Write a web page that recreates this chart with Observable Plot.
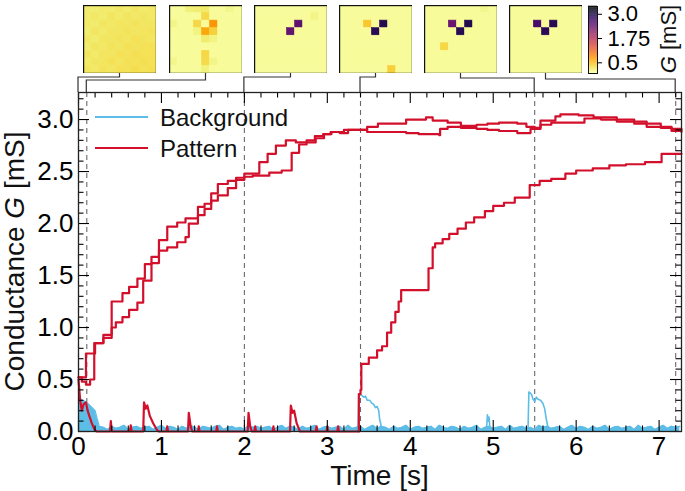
<!DOCTYPE html>
<html><head><meta charset="utf-8">
<script src="https://cdn.jsdelivr.net/npm/d3@7"></script>
<script src="https://cdn.jsdelivr.net/npm/@observablehq/plot@0.6"></script>
<style>
body{margin:0;background:#fff;}
#wrap{position:relative;width:685px;height:491px;overflow:hidden;background:#fff;}
#wrap svg{display:block;}
.abs{position:absolute;}
</style></head><body><div id="wrap"></div>
<script>
const FONT = '"Liberation Sans", Arial, Helvetica, sans-serif';
const BLUE = "#5cbde7", RED = "#d3102b";

// ---- data ----
const snapTimes = [0, 0.1, 2.0, 3.4, 5.5, 7.2];
const xTickValues = [0, 1, 2, 3, 4, 5, 6, 7];
const yTickValues = [0, 0.5, 1.0, 1.5, 2.0, 2.5, 3.0];
const cbarTickValues = [0.5, 1.75, 3.0];
const cbarTickLabels = ["0.5", "1.75", "3.0"];
const seriesNames = ["Background", "Pattern"];

// background noise band, sampled every bgStep seconds
const bgStep = 0.05;
const bgNoise = [
0.33,0.30,0.28,0.24,0.20,0.05,
0.04,0.02,0.05,0.03,0.04,0.06,0.02,0.04,0.05,0.03,
0.04,0.05,0.02,0.04,0.06,0.03,0.05,0.04,0.02,0.05,
0.03,0.06,0.04,0.02,0.05,0.04,0.03,0.05,0.06,0.02,
0.04,0.05,0.03,0.04,0.02,0.06,0.04,0.05,0.03,0.04,
0.05,0.02,0.04,0.06,0.03,0.05,0.04,0.02,0.05,0.03,
0.04,0.06,0.02,0.04,0.05,0.03,0.04,0.05,0.02,0.06,
0.03,0.04,0.05,0.02,0.04,0.06,0.03,0.05,0.04,0.02,
0.05,0.03,0.04,0.06,0.02,0.04,0.05,0.03,0.04,0.05,
0.02,0.06,0.04,0.03,0.05,0.04,0.02,0.05,0.03,0.04,
0.06,0.02,0.04,0.05,0.03,0.04,0.05,0.02,0.06,0.03,
0.04,0.05,0.03,0.04,0.02,0.06,0.04,0.05,0.03,0.04,
0.05,0.02,0.04,0.06,0.03,0.05,0.04,0.02,0.05,0.03,
0.04,0.06,0.02,0.04,0.05,0.03,0.04,0.05,0.02,0.06,
0.03,0.04,0.05,0.02,0.04,0.06,0.03,0.05,0.04,0.05
];
// background pixels that briefly switch
const bgBump1 = [[3.37,0.04],[3.38,0.36],[3.41,0.35],[3.44,0.33],[3.46,0.34],[3.48,0.3],[3.51,0.3],[3.54,0.27],[3.56,0.26],[3.58,0.23],[3.6,0.24],[3.62,0.2],[3.63,0.12],[3.65,0.05],[3.67,0.03]];
const bgBump2 = [[4.92,0.03],[4.93,0.16],[4.94,0.1],[4.95,0.14],[4.96,0.03]];
const bgBump3 = [[5.42,0.03],[5.43,0.38],[5.46,0.36],[5.48,0.31],[5.5,0.29],[5.52,0.33],[5.54,0.31],[5.57,0.3],[5.6,0.27],[5.62,0.22],[5.64,0.12],[5.66,0.04]];

// pattern pixel 3 before it is written (spikes), then written from 3.38 s
const patLow = [
[0,0.5],[0.02,0.3],[0.04,0.2],[0.06,0.26],[0.09,0.28],[0.11,0.2],[0.13,0.15],[0.16,0.08],[0.2,0.01],[0.22,0],
[0.38,0],[0.39,0.1],[0.4,0],[0.62,0],[0.63,0.06],[0.64,0],
[0.78,0],[0.79,0.28],[0.81,0.22],[0.83,0.25],[0.86,0.15],[0.9,0.08],[0.95,0.01],[0.97,0],
[1.06,0],[1.07,0.05],[1.08,0],[1.32,0],[1.33,0.18],[1.35,0.06],[1.37,0],
[1.44,0],[1.45,0.05],[1.46,0],[1.66,0],[1.67,0.05],[1.68,0],
[2.04,0],[2.05,0.18],[2.07,0.05],[2.09,0],[2.12,0],[2.13,0.05],[2.14,0],
[2.34,0],[2.35,0.05],[2.36,0],
[2.55,0],[2.56,0.25],[2.58,0.18],[2.6,0.2],[2.63,0.08],[2.67,0],
[2.86,0],[2.87,0.05],[2.88,0],[2.99,0],[3.0,0.05],[3.01,0],[3.12,0],[3.13,0.05],[3.14,0],[3.38,0]
];
const patRise = [
[3.38,0],[3.38,0.36],[3.4,0.4],[3.41,0.65],[3.5,0.71],[3.6,0.78],[3.66,0.82],[3.72,0.95],[3.77,1.05],[3.82,1.15],[3.86,1.25],[3.89,1.36],
[4.22,1.57],[4.27,1.77],[4.3,1.81],[4.39,1.85],[4.47,1.9],[4.57,1.95],[4.67,2.01],[4.77,2.06],[4.9,2.12],[5.0,2.17],[5.13,2.2],[5.26,2.25],
[5.44,2.37],[5.56,2.41],[5.7,2.43],[5.87,2.48],[6.0,2.51],[6.2,2.53],[6.4,2.56],[6.6,2.57],[6.83,2.59],[7.03,2.67],[7.27,2.67]
];
const patA = [
[0,0.52],[0.09,0.75],[0.2,0.85],[0.3,0.93],[0.4,1.25],[0.53,1.33],[0.61,1.39],[0.71,1.47],[0.8,1.61],[0.88,1.68],[0.97,1.84],[1.07,1.97],
[1.19,2.01],[1.29,2.05],[1.44,2.16],[1.52,2.19],[1.6,2.29],[1.68,2.38],[1.8,2.41],[1.9,2.44],[2.0,2.45],[2.1,2.46],[2.3,2.49],[2.45,2.51],
[2.57,2.68],[2.66,2.76],[2.75,2.8],[2.85,2.84],[2.95,2.86],[3.05,2.88],[3.15,2.87],[3.25,2.9],[3.4,2.9],[3.48,2.88],[3.61,2.88],[3.95,2.87],
[4.1,2.86],[4.35,2.85],[4.36,2.91],[4.45,2.93],[4.61,2.92],[4.8,2.91],[4.93,2.9],[5.07,2.89],[5.29,2.87],[5.45,2.91],[5.57,2.95],[5.7,2.97],
[5.9,2.97],[6.1,3.01],[6.3,3.0],[6.49,2.98],[6.7,2.96],[6.85,2.93],[7.02,2.92],[7.15,2.89],[7.27,2.88]
];
const patB = [
[0,0.52],[0.04,0.48],[0.09,0.45],[0.14,0.5],[0.19,0.85],[0.3,0.9],[0.4,1.0],[0.45,1.05],[0.53,1.1],[0.61,1.17],[0.71,1.24],[0.78,1.45],
[0.88,1.62],[0.97,1.74],[1.07,1.77],[1.19,1.82],[1.29,1.87],[1.33,2.0],[1.44,2.08],[1.52,2.14],[1.6,2.22],[1.68,2.27],[1.8,2.34],[1.9,2.42],
[2.0,2.48],[2.18,2.59],[2.28,2.67],[2.38,2.75],[2.5,2.8],[2.62,2.78],[2.86,2.82],[2.96,2.86],[3.04,2.88],[3.2,2.9],[3.4,2.9],[3.48,2.93],
[3.61,2.96],[3.7,2.96],[3.95,3.0],[4.19,3.02],[4.27,2.99],[4.45,2.97],[4.61,2.94],[4.8,2.95],[4.93,2.96],[5.07,2.97],[5.29,2.96],[5.4,2.93],
[5.5,2.92],[5.57,2.99],[5.75,3.03],[5.81,3.05],[6.03,3.04],[6.21,3.02],[6.49,3.0],[6.7,2.98],[6.85,2.96],[7.02,2.93],[7.15,2.91],[7.27,2.9]
];

// inset snapshots (9x9 conductance maps, mS)
const snap0 = [
[0.15,0.13,0.16,0.14,0.17,0.15,0.18,0.16,0.17],
[0.14,0.17,0.15,0.18,0.16,0.19,0.17,0.18,0.17],
[0.16,0.14,0.18,0.17,0.20,0.18,0.21,0.19,0.18],
[0.13,0.18,0.16,0.19,0.18,0.21,0.19,0.20,0.21],
[0.17,0.15,0.19,0.18,0.21,0.19,0.22,0.21,0.19],
[0.15,0.19,0.17,0.21,0.19,0.23,0.21,0.22,0.22],
[0.18,0.16,0.20,0.19,0.22,0.21,0.24,0.22,0.23],
[0.16,0.19,0.18,0.22,0.20,0.23,0.22,0.24,0.22],
[0.18,0.17,0.21,0.19,0.23,0.22,0.25,0.23,0.24]
];
const snapBase = 0.0;
// [column, row, value]
const snap1 = [[2,0,0.1],[3,0,0.13],[4,0,0.16],[7,0,0.05],[4,1,0.28],[0,2,0.06],[3,2,0.3],[5,2,0.75],[3,3,0.08],[4,3,0.62],[5,3,0.33],[4,4,0.14],[5,4,0.08],[4,6,0.3],[4,7,0.27],[5,7,0.07],[0,7,0.05],[4,8,0.09]];
const snap2 = [[5,2,2.48],[4,3,2.44],[7,1,0.07]];
const snap3 = [[3,2,0.4],[5,2,2.92],[4,3,2.9],[6,8,0.35]];
const snap4 = [[3,2,2.38],[5,2,2.95],[4,3,2.92],[2,5,0.3],[7,0,0.05]];
const snap5 = [[3,2,2.67],[5,2,2.9],[4,3,2.88]];

// ---- layout ----
const W = 685, H = 491, mL = 78, mR = 4, mT = 92, mB = 60;
const fw = W - mL - mR, fh = H - mT - mB;
const xDomain = [0, 7.27], yDomain = [0, 3.26];
const colorDomain = [-0.05, 3.4];
const colorInterp = t => d3.interpolateInferno(1 - t);

const bgData = bgNoise.map((g, i) => ({t: i * bgStep, g}));
const bumpData = [bgBump1, bgBump2, bgBump3].flatMap((s, k) => s.map(([t, g]) => ({t, g, id: k})));
const toObj = s => s.map(([t, g]) => ({t, g}));

const xMinor = d3.range(0.2, 7.27, 0.2).filter(v => Math.abs(v - Math.round(v)) > 1e-6);
const yMinor = d3.range(0.1, 3.26, 0.1).filter(v => Math.abs(v * 2 - Math.round(v * 2)) > 1e-6);
const MAJ = 11, MIN = 5.5;

const main = Plot.plot({
  width: W, height: H, marginLeft: mL, marginRight: mR, marginTop: mT, marginBottom: mB,
  style: {fontFamily: FONT, fontSize: "26px", background: "transparent", color: "#000"},
  x: {domain: xDomain, ticks: xTickValues, tickSize: 0, tickPadding: 5, tickFormat: d => String(d), label: null},
  y: {domain: yDomain, ticks: yTickValues, tickSize: 0, tickPadding: 5, tickFormat: d3.format(".1f"), label: null},
  marks: [
    Plot.ruleX(snapTimes, {x: d => d, stroke: "#6a6a6a", strokeWidth: 1.1, strokeDasharray: "5,4"}),
    Plot.areaY(bgData, {x: "t", y: "g", fill: BLUE, curve: "linear"}),
    Plot.line(bgData, {x: "t", y: "g", stroke: BLUE, strokeWidth: 1.2}),
    Plot.line(bumpData, {x: "t", y: "g", z: "id", stroke: BLUE, strokeWidth: 1.6}),
    Plot.line(toObj(patLow), {x: "t", y: "g", stroke: RED, strokeWidth: 2.2}),
    Plot.line(toObj(patRise), {x: "t", y: "g", stroke: RED, strokeWidth: 2.2, curve: "step-after"}),
    Plot.line(toObj(patA), {x: "t", y: "g", stroke: RED, strokeWidth: 2.2, curve: "step-after"}),
    Plot.line(toObj(patB), {x: "t", y: "g", stroke: RED, strokeWidth: 2.2, curve: "step-after"}),
    // inward ticks (bottom, top, left, right)
    Plot.tickX(xTickValues, {x: d => d, stroke: "#000", strokeWidth: 1.1, insetTop: fh - MAJ}),
    Plot.tickX(xMinor, {x: d => d, stroke: "#000", strokeWidth: 1.1, insetTop: fh - MIN}),
    Plot.tickX(xTickValues, {x: d => d, stroke: "#000", strokeWidth: 1.1, insetBottom: fh - MAJ}),
    Plot.tickX(xMinor, {x: d => d, stroke: "#000", strokeWidth: 1.1, insetBottom: fh - MIN}),
    Plot.tickY(yTickValues, {y: d => d, stroke: "#000", strokeWidth: 1.1, insetRight: fw - MAJ}),
    Plot.tickY(yMinor, {y: d => d, stroke: "#000", strokeWidth: 1.1, insetRight: fw - MIN}),
    Plot.tickY(yTickValues, {y: d => d, stroke: "#000", strokeWidth: 1.1, insetLeft: fw - MAJ}),
    Plot.tickY(yMinor, {y: d => d, stroke: "#000", strokeWidth: 1.1, insetLeft: fw - MIN}),
    Plot.frame({stroke: "#222", strokeWidth: 1.3})
  ]
});
const wrap = document.getElementById("wrap");
wrap.appendChild(main);

const svg = d3.select(main);
const xPix = t => mL + (t - xDomain[0]) / (xDomain[1] - xDomain[0]) * fw;

// connectors from insets to snapshot times
const insetLefts = [83, 169, 254, 339, 424, 509];
const insetTop = 5, insetW = 73, insetH = 68;
const connY = [77, 80, 77, 77, 78, 79];
insetLefts.forEach((L, i) => {
  const cx = L + insetW / 2, ex = xPix(snapTimes[i]);
  svg.append("path")
    .attr("d", `M${cx},${insetTop + insetH}V${connY[i]}H${ex}V${mT}`)
    .attr("fill", "none").attr("stroke", "#333").attr("stroke-width", 1.2);
});

// legend
const legColors = [BLUE, RED], legY = [117, 148];
seriesNames.forEach((name, i) => {
  svg.append("line").attr("x1", 95).attr("x2", 148).attr("y1", legY[i]).attr("y2", legY[i])
    .attr("stroke", legColors[i]).attr("stroke-width", 2);
  svg.append("text").attr("x", 160).attr("y", legY[i]).attr("dy", "0.36em")
    .attr("font-family", FONT).attr("font-size", 24).attr("fill", "#111").attr("text-anchor", "start").text(name);
});

// axis titles
svg.append("text").attr("x", mL + fw / 2).attr("y", 485).attr("text-anchor", "middle")
  .attr("font-family", FONT).attr("font-size", 28).attr("fill", "#111").text("Time [s]");
const yt = svg.append("text").attr("transform", `translate(24,${mT + fh / 2}) rotate(-90)`)
  .attr("text-anchor", "middle").attr("font-family", FONT).attr("font-size", 28).attr("fill", "#111");
yt.append("tspan").text("Conductance ");
yt.append("tspan").attr("font-style", "italic").text("G");
yt.append("tspan").text(" [mS]");

// insets
const snaps = [null, snap1, snap2, snap3, snap4, snap5];
const grid = d3.range(9);
snaps.forEach((sp, i) => {
  let cells;
  if (i === 0) {
    cells = snap0.flatMap((row, r) => row.map((v, c) => ({c, r, v})));
  } else {
    const m = new Map(sp.map(([c, r, v]) => [c + "," + r, v]));
    cells = grid.flatMap(r => grid.map(c => ({c, r, v: m.has(c + "," + r) ? m.get(c + "," + r) : snapBase})));
  }
  const p = Plot.plot({
    width: insetW, height: insetH, margin: 0,
    style: {background: "transparent"},
    x: {type: "band", domain: grid, padding: 0, round: false, axis: null},
    y: {type: "band", domain: grid, padding: 0, round: false, axis: null},
    color: {type: "linear", domain: colorDomain, interpolate: colorInterp},
    marks: [
      Plot.cell(cells, {x: "c", y: "r", fill: "v", stroke: "v", strokeWidth: 0.6, inset: 0}),
      Plot.frame({stroke: "#111", strokeWidth: 1.4})
    ]
  });
  const d = document.createElement("div");
  d.className = "abs"; d.style.left = insetLefts[i] + "px"; d.style.top = insetTop + "px";
  d.appendChild(p); wrap.appendChild(d);
});

// colorbar
const cbStep = 0.02;
const cbVals = d3.range(colorDomain[0], colorDomain[1], cbStep);
const cbW = 97;
const cbar = Plot.plot({
  width: cbW, height: 80, marginLeft: 0, marginRight: cbW - 9, marginTop: 6, marginBottom: 7,
  style: {fontFamily: FONT, fontSize: "22px", background: "transparent", color: "#000"},
  x: {domain: [0, 1], axis: null},
  y: {domain: colorDomain, axis: "right", ticks: cbarTickValues, tickSize: 4, tickPadding: 6,
      tickFormat: d => cbarTickLabels[cbarTickValues.indexOf(d)], label: null},
  color: {type: "linear", domain: colorDomain, interpolate: colorInterp},
  marks: [
    Plot.rect(cbVals, {x1: 0, x2: 1, y1: d => d, y2: d => d + cbStep * 1.3, fill: d => d}),
    Plot.frame({stroke: "#111", strokeWidth: 1})
  ]
});
const cd = document.createElement("div");
cd.className = "abs"; cd.style.left = "588px"; cd.style.top = "0px";
cd.appendChild(cbar); wrap.appendChild(cd);
const ct = d3.select(cbar).append("text").attr("transform", "translate(88,39) rotate(-90)")
  .attr("text-anchor", "middle").attr("font-family", FONT).attr("font-size", 22).attr("fill", "#111");
ct.append("tspan").attr("font-style", "italic").text("G");
ct.append("tspan").text(" [mS]");
</script></body></html>
